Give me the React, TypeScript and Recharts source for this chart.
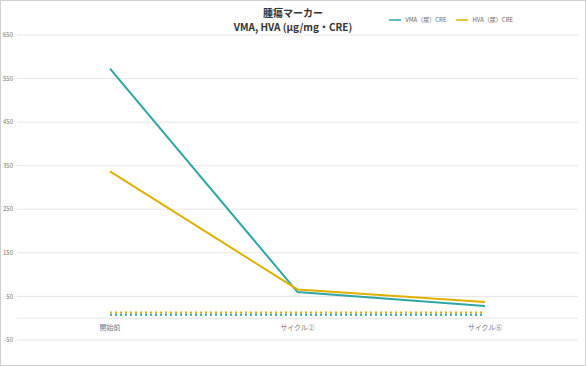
import React from 'react';
import { LineChart, Line, XAxis, YAxis, CartesianGrid, Legend } from 'recharts';

const categories = ['開始前', 'サイクル②', 'サイクル⑥'];
const vmaValues = [573, 60, 28];
const hvaValues = [337, 66, 37];
const vmaLimit = [8, 8, 8];
const hvaLimit = [13, 13, 13];
const yTicks = [-50, 0, 50, 150, 250, 350, 450, 550, 650];
const legendOrder = ['VMA（尿）CRE', 'HVA（尿）CRE'];

const data = categories.map((name, i) => ({
  name,
  vma: vmaValues[i],
  hva: hvaValues[i],
  vmaLimit: vmaLimit[i],
  hvaLimit: hvaLimit[i],
}));

const TEAL = '#2fa6a6';
const GOLD = '#e0b000';
const FONT = '"Noto Sans CJK JP", "Noto Sans", sans-serif';

export default function App() {
  return (
    <div style={styles.frame}>
      <div style={styles.title}>
        <div>腫瘍マーカー</div>
        <div>VMA, HVA (μg/mg・CRE)</div>
      </div>
      <LineChart width={584} height={364} data={data} margin={{ top: 22, right: 7, left: 0, bottom: 5 }}>
        <CartesianGrid vertical={false} stroke="#e6e6e6" />
        <XAxis
          dataKey="name"
          axisLine={false}
          tickLine={false}
          height={20}
          padding={{ left: 93, right: 93 }}
          tick={{ fill: '#777', fontSize: 7, fontFamily: FONT, dy: -23 }}
        />
        <YAxis
          domain={[-50, 650]}
          ticks={yTicks}
          interval={0}
          width={16}
          axisLine={false}
          tickLine={false}
          tickSize={0}
          tickMargin={4}
          tickFormatter={(v: number) => (v === 0 ? '' : String(v))}
          tick={{ fill: '#777', fontSize: 6, fontFamily: FONT }}
        />
        <Legend
          verticalAlign="top"
          align="right"
          iconType="plainline"
          iconSize={12}
          itemSorter={(item: any) => legendOrder.indexOf(item.value)}
          formatter={(value: string) => <span style={{ color: '#666' }}>{value}</span>}
          wrapperStyle={{ top: 13, right: 62, width: 'auto', fontSize: 6, fontFamily: FONT }}
        />
        <Line dataKey="vma" name="VMA（尿）CRE" stroke={TEAL} strokeWidth={2} dot={false} isAnimationActive={false} />
        <Line dataKey="hva" name="HVA（尿）CRE" stroke={GOLD} strokeWidth={2} dot={false} isAnimationActive={false} />
        <Line dataKey="hvaLimit" legendType="none" stroke={GOLD} strokeWidth={2} strokeDasharray="2 3" dot={false} isAnimationActive={false} />
        <Line dataKey="vmaLimit" legendType="none" stroke={TEAL} strokeWidth={2} strokeDasharray="2 3" dot={false} isAnimationActive={false} />
      </LineChart>
    </div>
  );
}

const styles = {
  frame: {
    position: 'absolute' as const,
    top: 0,
    left: 0,
    width: 584,
    height: 364,
    border: '1px solid #d0d0d0',
    background: '#fff',
    fontFamily: FONT,
  },
  title: {
    position: 'absolute' as const,
    top: 5,
    left: 0,
    width: 584,
    textAlign: 'center' as const,
    fontSize: 10,
    fontWeight: 700,
    lineHeight: '14px',
    color: '#333',
  },
};
